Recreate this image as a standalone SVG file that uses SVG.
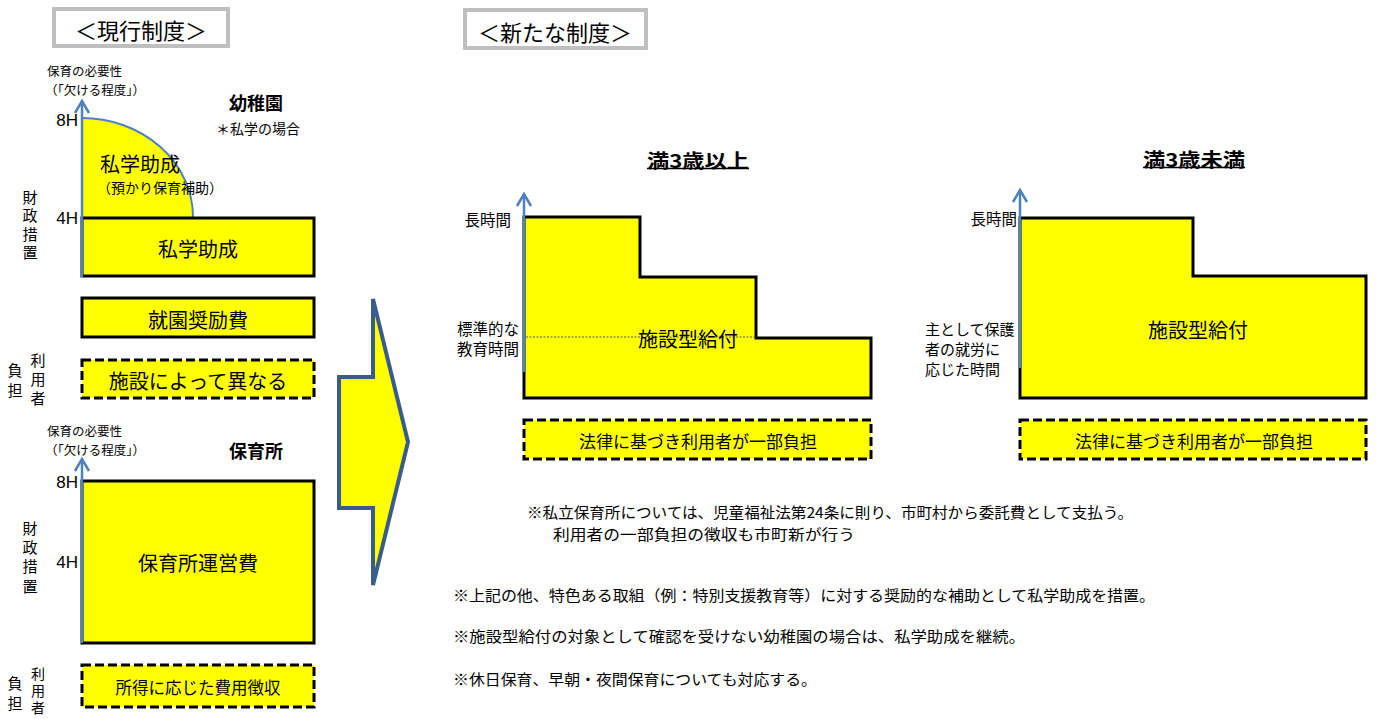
<svg xmlns="http://www.w3.org/2000/svg" width="1378" height="719" viewBox="0 0 1378 719">
<style>
text{font-family:"Noto Sans CJK JP","Noto Sans CJK SC",sans-serif;fill:#000;dominant-baseline:central}
.lat{font-family:"Liberation Sans",Arial,sans-serif}
.title{font-size:22px;text-anchor:middle}
.tbox{fill:#fff;stroke:#bfbfbf;stroke-width:4}
.ybox{fill:#ffff00;stroke:#000;stroke-width:3}
.dbox{fill:#ffff00;stroke:#000;stroke-width:3;stroke-dasharray:9 4}
.axis{stroke:#4f81bd;stroke-width:2.5;fill:none}
.big{font-size:20px;text-anchor:middle}
.sm{font-size:12.5px}
.vt{font-size:15px;writing-mode:vertical-rl;text-anchor:start}
.h{font-size:17px;text-anchor:end}
.lab{font-size:15.5px}
.note{font-size:15px}
.bold{font-weight:bold}
</style>

<g id="title-current">
<rect class="tbox" x="54" y="9" width="174" height="37"/>
<text class="title" x="141" y="29">＜現行制度＞</text>
</g>
<g id="title-new">
<rect class="tbox" x="465" y="10" width="181" height="38"/>
<text class="title" x="555" y="31">＜新たな制度＞</text>
</g>

<!-- Kindergarten (current) -->
<g id="kinder-labels">
<text class="sm" x="47" y="70">保育の必要性</text>
<text class="sm" x="45" y="89">（「欠ける程度」）</text>
<text class="bold" x="256" y="102" style="font-size:18px;text-anchor:middle">幼稚園</text>
<text x="258" y="128" style="font-size:14px;text-anchor:middle">＊私学の場合</text>
<text class="lat h" x="78" y="120">8H</text>
<text class="lat h" x="78" y="218">4H</text>
<text class="vt" x="30" y="189.5" style="letter-spacing:3.5px">財政措置</text>
<text class="vt" x="15" y="362.5" style="letter-spacing:5px">負担</text>
<text class="vt" x="38" y="352.5" style="letter-spacing:4px">利用者</text>
</g>
<g id="kinder-quarter">
<path d="M82,217 L82,118 A111,99 0 0 1 193,217 Z" fill="#ffff00" stroke="none"/>
<path d="M82,118 A111,99 0 0 1 193,217" fill="none" stroke="#4f81bd" stroke-width="2"/>
<text x="100" y="163" style="font-size:20px">私学助成</text>
<text x="97" y="187" style="font-size:14px">（預かり保育補助）</text>
</g>
<g id="kinder-subsidy">
<rect class="ybox" x="82" y="218" width="232" height="58"/>
<text class="big" x="198" y="248">私学助成</text>
</g>
<g id="kinder-encourage">
<rect class="ybox" x="82" y="298" width="232" height="39"/>
<text class="big" x="198" y="319">就園奨励費</text>
</g>
<g id="kinder-user">
<rect class="dbox" x="82" y="360" width="232" height="38"/>
<text class="big" x="198" y="380">施設によって異なる</text>
</g>

<!-- Nursery (current) -->
<g id="nursery-labels">
<text class="sm" x="47" y="430">保育の必要性</text>
<text class="sm" x="45" y="449">（「欠ける程度」）</text>
<text class="bold" x="256" y="450" style="font-size:18px;text-anchor:middle">保育所</text>
<text class="lat h" x="78" y="482">8H</text>
<text class="lat h" x="78" y="562">4H</text>
<text class="vt" x="30" y="520.5" style="letter-spacing:4.3px">財政措置</text>
<text class="vt" x="15" y="675.5" style="letter-spacing:5px">負担</text>
<text class="vt" x="38" y="667" style="letter-spacing:3px;font-size:14px">利用者</text>
</g>
<g id="nursery-cost">
<rect class="ybox" x="82" y="481" width="232" height="162"/>
<text class="big" x="198" y="562">保育所運営費</text>
</g>
<g id="nursery-user">
<rect class="dbox" x="82" y="665" width="232" height="42"/>
<text x="198" y="687" style="font-size:16.5px;text-anchor:middle">所得に応じた費用徴収</text>
</g>

<!-- Big arrow -->
<g id="transition-arrow">
<polygon points="339,377 373,377 373,299 408,442 373,585 373,508 339,508" fill="#ffff00" stroke="#385d8a" stroke-width="4" stroke-linejoin="miter"/>
</g>

<!-- New: 3 and over -->
<g id="over3">
<text class="bold" x="698" y="159" style="font-size:19px;text-anchor:middle" textLength="102" lengthAdjust="spacingAndGlyphs">満3歳以上</text>
<line x1="647" y1="168.5" x2="749" y2="168.5" stroke="#000" stroke-width="1.5"/>
<path d="M524,217 H640 V277 H756 V338 H871 V398 H524 Z" class="ybox"/>
<line x1="526" y1="337" x2="756" y2="337" stroke="#555" stroke-width="1" stroke-dasharray="2 1.5"/>
<text class="big" x="688" y="338">施設型給付</text>
<text class="lab" x="511" y="219" style="text-anchor:end">長時間</text>
<text class="lab" style="text-anchor:end"><tspan x="519" y="328">標準的な</tspan><tspan x="519" y="348">教育時間</tspan></text>
</g>
<g id="over3-user">
<rect class="dbox" x="524" y="420" width="347" height="39"/>
<text x="698" y="440" style="font-size:17px;text-anchor:middle" textLength="238" lengthAdjust="spacingAndGlyphs">法律に基づき利用者が一部負担</text>
</g>

<!-- New: under 3 -->
<g id="under3">
<text class="bold" x="1194" y="158" style="font-size:19px;text-anchor:middle" textLength="102" lengthAdjust="spacingAndGlyphs">満3歳未満</text>
<line x1="1143" y1="167.5" x2="1245" y2="167.5" stroke="#000" stroke-width="1.5"/>
<path d="M1020,218 H1193 V276 H1366 V398 H1020 Z" class="ybox"/>
<text class="big" x="1198" y="329">施設型給付</text>
<text class="lab" x="1017" y="218" style="text-anchor:end">長時間</text>
<text style="font-size:15px"><tspan x="925" y="328">主として保護</tspan><tspan x="925" y="348">者の就労に</tspan><tspan x="925" y="368">応じた時間</tspan></text>
</g>
<g id="under3-user">
<rect class="dbox" x="1020" y="420" width="346" height="39"/>
<text x="1194" y="440" style="font-size:17px;text-anchor:middle" textLength="238" lengthAdjust="spacingAndGlyphs">法律に基づき利用者が一部負担</text>
</g>

<!-- Axes (connectors) -->
<g id="connectors">
<line class="axis" x1="82" y1="277" x2="82" y2="101"/>
<polyline class="axis" points="75,113 82,101 89,113"/>
<line class="axis" x1="82" y1="643" x2="82" y2="459"/>
<polyline class="axis" points="75,471 82,459 89,471"/>
<line class="axis" x1="524" y1="372" x2="524" y2="194"/>
<polyline class="axis" points="517,206 524,194 531,206"/>
<line class="axis" x1="1020" y1="368" x2="1020" y2="190"/>
<polyline class="axis" points="1013,202 1020,190 1027,202"/>
</g>

<!-- Notes -->
<g id="notes">
<text class="note" x="527" y="511" textLength="606" lengthAdjust="spacingAndGlyphs">※私立保育所については、児童福祉法第24条に則り、市町村から委託費として支払う。</text>
<text class="note" x="553" y="533" textLength="302" lengthAdjust="spacingAndGlyphs">利用者の一部負担の徴収も市町新が行う</text>
<text class="note" x="453" y="594" textLength="702" lengthAdjust="spacingAndGlyphs">※上記の他、特色ある取組（例：特別支援教育等）に対する奨励的な補助として私学助成を措置。</text>
<text class="note" x="453" y="635" textLength="572" lengthAdjust="spacingAndGlyphs">※施設型給付の対象として確認を受けない幼稚園の場合は、私学助成を継続。</text>
<text class="note" x="453" y="678" textLength="364" lengthAdjust="spacingAndGlyphs">※休日保育、早朝・夜間保育についても対応する。</text>
</g>
</svg>
